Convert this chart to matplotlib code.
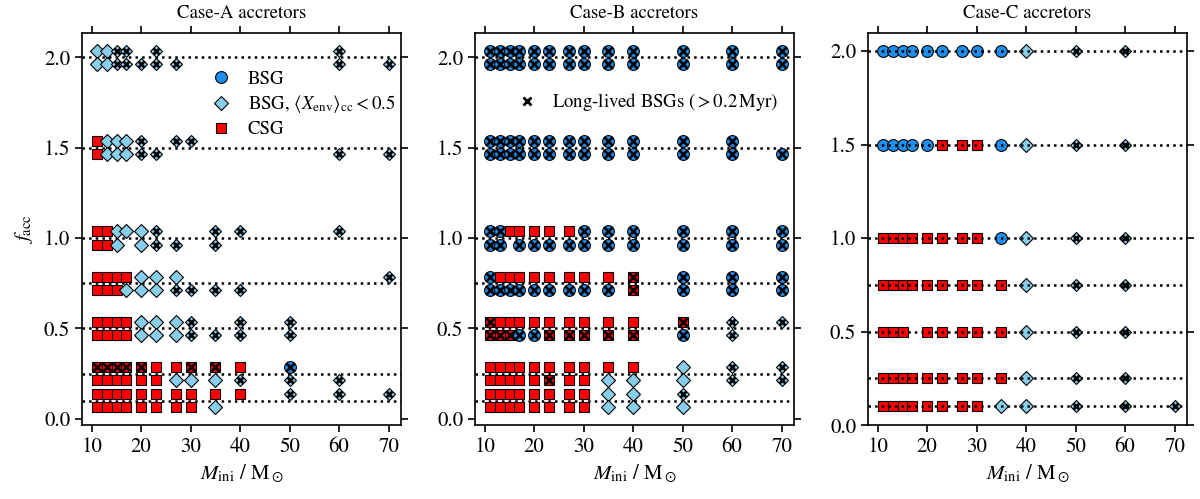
import numpy as np
import matplotlib
matplotlib.use("Agg")
from matplotlib import pyplot as plt
from matplotlib.lines import Line2D

plt.rcParams['font.family'] = ['STIXGeneral', 'DejaVu Serif']
plt.rcParams['mathtext.fontset'] = 'stix'

# initial masses (Msun) on the grid
masses = [11, 13, 15, 17, 20, 23, 27, 30, 35, 40, 50, 60, 70]
f_acc_levels = [2.0, 1.5, 1.0, 0.75, 0.5, 0.25, 0.1]

# outcome codes per mass:  C = BSG, D = BSG with <X_env>_cc < 0.5, S = CSG
# lower case = same, plus long-lived BSG (> 0.2 Myr); '.' = no model
# case A / B: two rows per f_acc (upper, lower)
caseA_upper = ["DDdd.d.....d.", "SDDDd.dd.....", "SSDDDd..dd.d.", "SSSSDDD.....d",
               "SSSSDDDd.dd..", "sssssSSssSc..", "SSSSSSSSSSddd"]
caseA_lower = ["DDddddd....dd", "SDDDdd.....dd", "SSD.Ddd.d....", "SSSDDDdddd...",
               "SSSSDDDdddd..", "SSSSSSDDDddd.", "SSSSSSSSD...."]
caseB_upper = ["ccccccccccccc", "cccccccccccc.", "ccSSSSScccccc", "cSSSSSSSSsccc",
               "sSSSSSSSSSsdd", "SSSSSSSSSSDdd", "SSSSSSSSDDd.."]
caseB_lower = ["ccccccccccccc", "ccccccccccccc", "cc.cccccccccc", "cccccccccsccc",
               "sssccssssscd.", "SSSSSsSSDDDdd", "SSSSSSSSDDD.."]
# case C: single row per f_acc
caseC_row = ["CCCCCCCCCDdd.", "CCCCCSSSCDdd.", "SSSSSSSSCDdd.", "SSSSSSSSSDdd.",
             "SSS.SSSSSDdd.", "SSSSSSSSSDdd.", "SSSSSSSSDDddd"]

titles = ["Case-A accretors", "Case-B accretors", "Case-C accretors"]

BLUE = '#1e8ff0'
LIGHT = '#87ceeb'
RED = '#ff0000'

# marker style, size, and size of the black cross drawn on top
styles = {
    'C': dict(marker='o', mfc=BLUE, ms=8.5),
    'D': dict(marker='D', mfc=LIGHT, ms=7.5),
    'd': dict(marker='D', mfc=LIGHT, ms=6.4),
    'S': dict(marker='s', mfc=RED, ms=7.2),
}
cross_ms = {'C': 5.8, 'd': 4.8, 'S': 5.2}


def draw_row(ax, codes, y):
    for i, c in enumerate(codes):
        if c == '.':
            continue
        key = 'd' if c == 'd' else c.upper()
        ax.plot(masses[i], y, ls='none', mec='k', mew=0.8, zorder=3, **styles[key])
        if c.islower():
            ax.plot(masses[i], y, ls='none', marker='x', color='k',
                    ms=cross_ms[key], mew=1.9, zorder=4)


fig = plt.figure(figsize=(12, 4.99), dpi=100)
lefts = [0.0683, 0.3958, 0.7233]
axes = [fig.add_axes([l, 0.148, 0.2658, 0.786]) for l in lefts]

dy = 0.037
for k, ax in enumerate(axes):
    for j, f in enumerate(f_acc_levels):
        ax.axhline(f, color='k', ls=':', lw=1.8, zorder=5 if k == 2 else 2)
        if k == 0:
            draw_row(ax, caseA_upper[j], f + dy)
            draw_row(ax, caseA_lower[j], f - dy)
        elif k == 1:
            draw_row(ax, caseB_upper[j], f + dy)
            draw_row(ax, caseB_lower[j], f - dy)
        else:
            draw_row(ax, caseC_row[j], f)

    ax.set_xlim(8, 72.5)
    if k < 2:
        ax.set_ylim(-0.035, 2.135)
    else:
        ax.set_ylim(0, 2.097)
    ax.set_xticks([10, 20, 30, 40, 50, 60, 70])
    ax.set_yticks([0.0, 0.5, 1.0, 1.5, 2.0])
    ax.set_yticklabels(["0.0", "0.5", "1.0", "1.5", "2.0"])
    ax.tick_params(direction='out', length=5, width=1.2, labelsize=15,
                   top=True, right=True, labeltop=False, labelright=False)
    for sp in ax.spines.values():
        sp.set_linewidth(1.2)
    ax.set_title(titles[k], fontsize=13.5, pad=11)
    ax.set_xlabel(r"$M_\mathrm{ini}$ / M$_\odot$", fontsize=15)

axes[0].set_ylabel(r"$f_\mathrm{acc}$", fontsize=15, labelpad=6)

h1 = [Line2D([], [], ls='none', marker='o', mfc=BLUE, mec='k', mew=0.8, ms=8.5),
      Line2D([], [], ls='none', marker='D', mfc=LIGHT, mec='k', mew=0.8, ms=7.5),
      Line2D([], [], ls='none', marker='s', mfc=RED, mec='k', mew=0.8, ms=7.2)]
axes[0].legend(h1, ["BSG", r"BSG, $\langle X_\mathrm{env}\rangle_\mathrm{cc} < 0.5$", "CSG"],
               loc='upper left', bbox_to_anchor=(0.37, 0.928), frameon=False,
               fontsize=13.5, handlelength=1.2, handletextpad=0.85, labelspacing=0.3,
               borderpad=0)

h2 = [Line2D([], [], ls='none', marker='x', color='k', ms=5.5, mew=2.0)]
axes[1].legend(h2, [r"Long-lived BSGs ($>0.2\,$Myr)"],
               loc='upper left', bbox_to_anchor=(0.1, 0.875), frameon=False,
               fontsize=13.5, handlelength=1.2, handletextpad=0.7, borderpad=0)

fig.savefig("out.png", dpi=100)
